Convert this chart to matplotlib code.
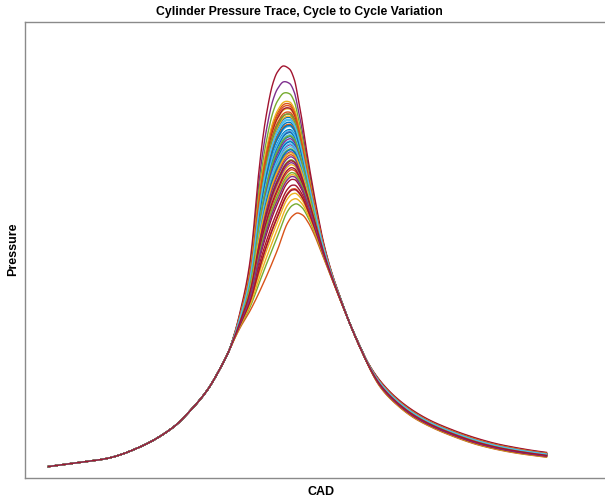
import matplotlib
matplotlib.use("Agg")
import matplotlib.pyplot as plt
import numpy as np

# Compression stroke before ignition, shared by every cycle (CAD, bar)
cad_common = [-180.0, -160.5, -137.4, -113.5, -89.6, -77.4, -65.1, -55.7, -49.9]
p_common = [0.96, 1.27, 1.68, 2.70, 4.43, 5.88, 7.68, 9.61, 11.01]

# Strongest burning cycle after ignition
cad_high = [-44.8, -40.5, -36.9, -34.0, -31.8, -29.6, -27.8, -26.0, -22.8, -17.7,
            -14.5, -10.1, -5.8, -2.2, 0.7, 2.9, 6.5, 10.8, 14.5, 18.1, 21.7, 26.0,
            31.1, 36.9, 43.4, 51.3, 60.0, 71.6, 83.9, 96.1, 108.4, 120.0, 132.3,
            144.6, 156.1, 168.4, 180.0]
p_high = [12.94, 15.04, 17.06, 19.25, 21.71, 24.78, 26.97, 28.90, 31.62, 34.61,
          35.57, 36.10, 35.83, 34.87, 33.11, 31.62, 28.73, 25.66, 23.20, 21.01,
          19.25, 17.50, 15.75, 13.80, 12.00, 10.00, 8.45, 6.98, 5.85, 5.00, 4.35,
          3.82, 3.34, 2.94, 2.66, 2.40, 2.20]

# Weakest burning cycle after ignition
cad_low = [-46.3, -41.2, -34.0, -24.6, -14.5, -7.2, -3.6, 0.0, 3.6, 8.0, 12.3,
           16.6, 26.0, 36.1, 45.5, 60.0, 71.6, 83.9, 96.1, 108.4, 132.3, 156.1,
           180.0]
p_low = [11.97, 13.20, 14.69, 17.06, 19.96, 22.32, 22.94, 23.20, 23.03, 22.32,
         21.27, 19.96, 17.06, 14.00, 11.30, 7.90, 6.40, 5.25, 4.45, 3.80, 2.80,
         2.18, 1.78]

# Peak cylinder pressure of each recorded cycle (bar)
peak_pressure = [30.92, 23.20, 32.68, 34.87, 33.99, 30.48, 36.10, 31.54, 33.11,
                 27.85, 29.61, 24.17, 31.18, 26.54, 30.31, 28.73, 25.22, 30.75,
                 28.29, 29.96, 32.76, 31.97, 27.41, 32.06, 28.99, 31.36, 29.43,
                 26.01, 29.87, 32.41, 26.97, 28.03, 29.25, 31.71, 27.59, 30.66,
                 25.66, 33.29, 30.13, 27.15, 30.83, 32.24, 29.17, 31.36, 24.69,
                 28.55, 32.24, 29.69, 25.57, 31.27, 32.94, 28.90, 26.80, 30.39,
                 31.80, 28.20]

# MATLAB default line colour order
colors = [(0, 0.447, 0.741), (0.85, 0.325, 0.098), (0.929, 0.694, 0.125),
          (0.494, 0.184, 0.556), (0.466, 0.674, 0.188), (0.301, 0.745, 0.933),
          (0.635, 0.078, 0.184)]


def pchip(xk, yk, x):
    # monotone cubic through the sampled trace points
    xk = np.asarray(xk, float)
    yk = np.asarray(yk, float)
    h = np.diff(xk)
    delta = np.diff(yk) / h
    d = np.zeros_like(yk)
    d[0], d[-1] = delta[0], delta[-1]
    for k in range(1, len(xk) - 1):
        if delta[k - 1] * delta[k] > 0:
            w1 = 2 * h[k] + h[k - 1]
            w2 = h[k] + 2 * h[k - 1]
            d[k] = (w1 + w2) / (w1 / delta[k - 1] + w2 / delta[k])
    idx = np.clip(np.searchsorted(xk, x) - 1, 0, len(xk) - 2)
    t = (x - xk[idx]) / h[idx]
    h00 = 2 * t**3 - 3 * t**2 + 1
    h10 = t**3 - 2 * t**2 + t
    h01 = -2 * t**3 + 3 * t**2
    h11 = t**3 - t**2
    return (h00 * yk[idx] + h10 * h[idx] * d[idx]
            + h01 * yk[idx + 1] + h11 * h[idx] * d[idx + 1])


cad = np.linspace(-180, 180, 1441)
high = pchip(cad_common + cad_high, p_common + p_high, cad)
low = pchip(cad_common + cad_low, p_common + p_low, cad)

fig = plt.figure(figsize=(6.05, 4.97), dpi=100)
ax = fig.add_axes([25 / 605, 19.5 / 497, 592 / 605, 456 / 497])

for i, pk in enumerate(peak_pressure):
    w = (pk - max(p_low)) / (max(p_high) - max(p_low))
    ax.plot(cad, low + w * (high - low), color=colors[i % 7], lw=1.0)

ax.set_xlim(-197, 231)
ax.set_ylim(0, 40)
ax.set_xticks([])
ax.set_yticks([])
for s in ax.spines.values():
    s.set_color("#8a8a8a")
    s.set_linewidth(1.0)

font = "Liberation Sans"
ax.set_title("Cylinder Pressure Trace, Cycle to Cycle Variation", x=0.463,
             fontsize=8.8, fontweight="bold", family=font, pad=5)
ax.set_xlabel("CAD", fontsize=9, fontweight="bold", family=font, labelpad=6)
ax.set_ylabel("Pressure", fontsize=9, fontweight="bold", family=font, labelpad=4)

fig.savefig("out.png", dpi=100)
